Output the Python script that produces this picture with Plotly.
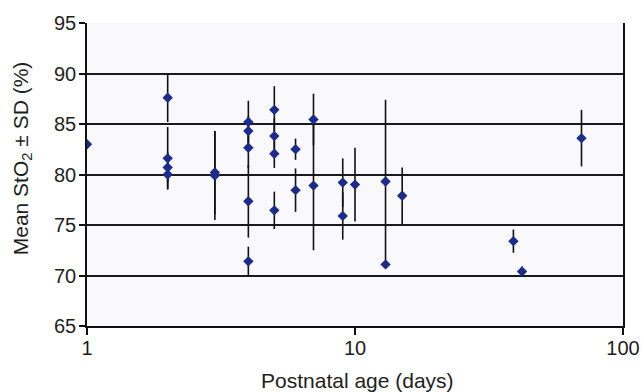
import plotly.graph_objects as go

# Postnatal age (days)
age = [1, 2, 2, 2, 2, 3, 3, 4, 4, 4, 4, 4, 5, 5, 5, 5, 6, 6, 7, 7,
       9, 9, 10, 13, 13, 15, 39, 42, 70]
# Mean StO2 (%)
mean_sto2 = [83.0, 87.6, 81.6, 80.7, 80.0, 80.2, 79.9, 85.2, 84.3, 82.65, 77.35, 71.4,
             86.4, 83.8, 82.05, 76.45, 82.5, 78.45, 85.45, 78.9,
             79.2, 75.9, 79.0, 79.3, 71.1, 77.9, 73.4, 70.4, 83.6]
# SD (%)
sd_sto2 = [0.0, 2.4, 3.1, 1.5, 1.4, 4.1, 4.4, 2.1, 1.5, 2.0, 3.6, 1.45,
           2.35, 1.8, 1.4, 1.85, 1.05, 2.15, 2.55, 6.4,
           2.4, 2.35, 3.65, 8.1, 0.2, 2.8, 1.15, 0.5, 2.8]

x_ticks = [1, 10, 100]
x_tick_labels = ["1", "10", "100"]
y_ticks = [65, 70, 75, 80, 85, 90, 95]

x_title = "Postnatal age (days)"
y_title = "Mean StO<sub>2</sub> ± SD (%)"

font_main = "Liberation Sans, Arial, sans-serif"
txt = "#1e1e1e"

fig = go.Figure()
fig.add_trace(go.Scatter(
    x=age, y=mean_sto2, mode="markers",
    marker=dict(symbol="diamond", size=8, color="#1c2b8c"),
    error_y=dict(type="data", array=sd_sto2, visible=True,
                 color="#111111", thickness=1.6, width=0),
    showlegend=False,
))

fig.update_layout(
    width=642, height=392,
    margin=dict(l=87, r=19, t=23, b=66),
    paper_bgcolor="#ffffff",
    plot_bgcolor="#f9f9fc",
    font=dict(family=font_main, size=18, color=txt),
)

fig.update_xaxes(
    type="log", range=[0, 2], automargin=False,
    tickvals=x_ticks, ticktext=x_tick_labels,
    showgrid=False, zeroline=False,
    showline=True, linecolor="#111111", linewidth=1.6,
    ticks="outside", ticklen=7, tickwidth=1.6, tickcolor="#111111",
    ticklabelstandoff=-4,
    tickfont=dict(size=20, color=txt),
)

fig.update_yaxes(
    range=[65, 95], tickvals=y_ticks, automargin=False,
    showgrid=True, gridcolor="#1a1a1a", gridwidth=1.6,
    zeroline=False,
    showline=True, linecolor="#111111", linewidth=1.6, mirror=True,
    ticks="outside", ticklen=6, tickwidth=1.6, tickcolor="#111111",
    ticklabelstandoff=-1,
    tickfont=dict(size=20, color=txt),
)

fig.add_annotation(
    text=x_title, xref="paper", yref="paper", x=0.504, y=-0.1815,
    xanchor="center", yanchor="middle", showarrow=False,
    font=dict(size=21, color=txt),
)
fig.add_annotation(
    text=y_title, xref="paper", yref="paper", x=-0.121, y=0.554,
    xanchor="center", yanchor="middle", showarrow=False, textangle=-90,
    font=dict(size=21, color=txt),
)

fig.write_html(
    "out.html",
    config={"displayModeBar": False},
    post_script="document.body.style.margin='0px';document.body.style.overflow='hidden';",
)
